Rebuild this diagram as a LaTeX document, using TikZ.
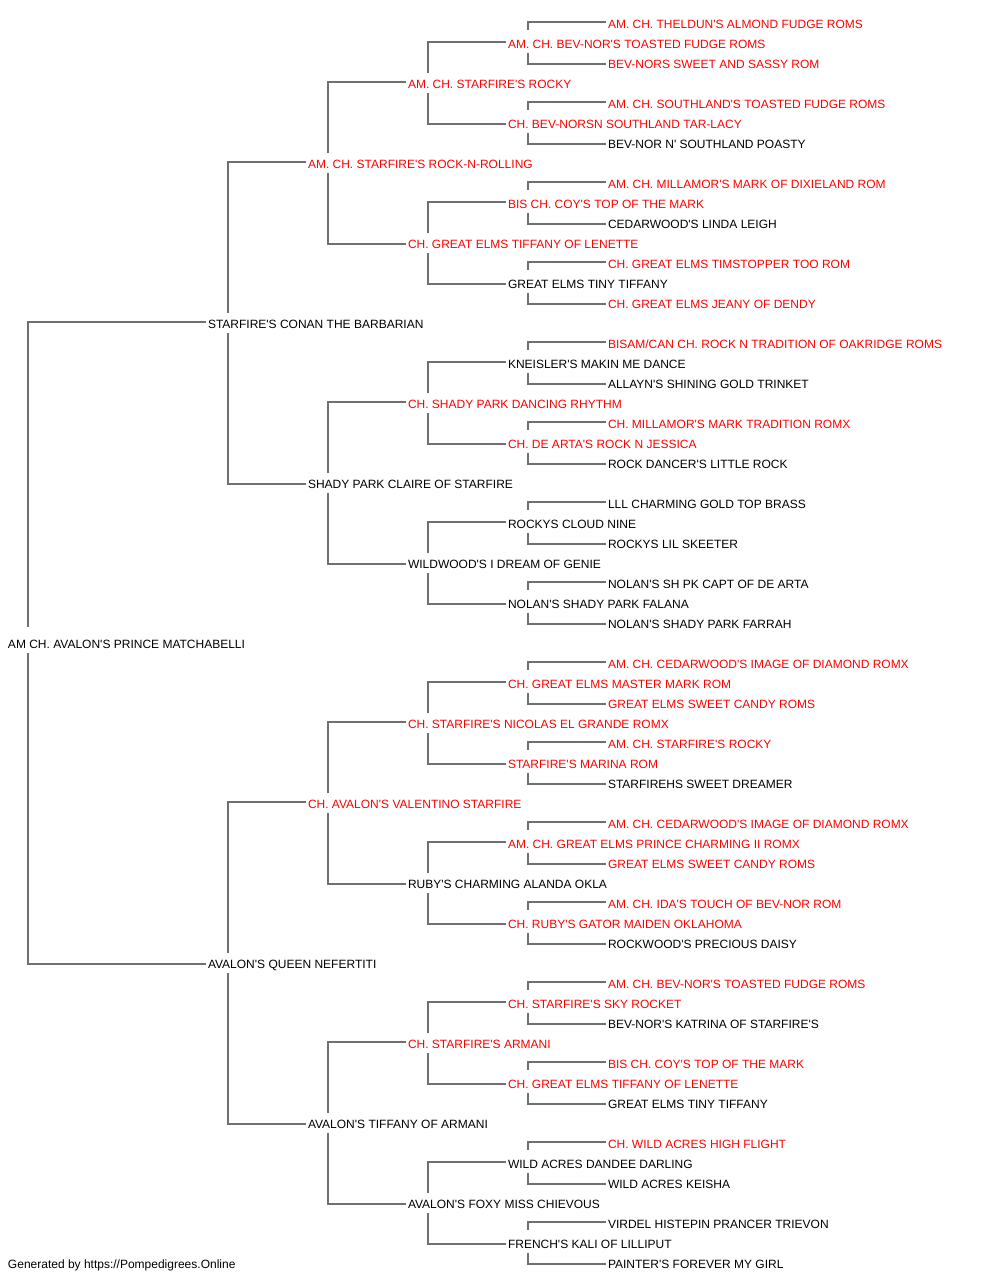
\documentclass[tikz,border=0pt]{standalone}
\usepackage{fontspec}
\setmainfont{Liberation Sans}[Ligatures=TeXOff]
\usetikzlibrary{calc}
\definecolor{linegray}{RGB}{112,112,112}
\definecolor{chred}{RGB}{255,0,0}
\definecolor{plain}{RGB}{0,0,0}
\begin{document}
\begin{tikzpicture}[x=1pt,y=-1pt,
  txt/.style={anchor=base west,inner sep=0pt,outer sep=0pt,font=\fontsize{12}{14}\selectfont},
  conn/.style={draw=linegray,line width=2pt}]
\useasboundingbox[fill=white] (0,0) rectangle (1000,1280);
\newcommand\dog[4]{\node[txt,text=#3] (n#2) at (#1,{28+20*#2}) {#4};}
\newcommand\kids[4]{%
  \draw[conn] ($(n#2.base west)+(-2,-6)$) -| ($(n#1.base west)+(20,#4)$);
  \draw[conn] ($(n#3.base west)+(-2,-4)$) -| ($(n#1.base west)+(20,5)$);}
% nodes
\dog{608}{0}{chred}{AM. CH. THELDUN'S ALMOND FUDGE ROMS}
\dog{508}{1}{chred}{AM. CH. BEV-NOR'S TOASTED FUDGE ROMS}
\dog{608}{2}{chred}{BEV-NORS SWEET AND SASSY ROM}
\dog{408}{3}{chred}{AM. CH. STARFIRE'S ROCKY}
\dog{608}{4}{chred}{AM. CH. SOUTHLAND'S TOASTED FUDGE ROMS}
\dog{508}{5}{chred}{CH. BEV-NORSN SOUTHLAND TAR-LACY}
\dog{608}{6}{plain}{BEV-NOR N' SOUTHLAND POASTY}
\dog{308}{7}{chred}{AM. CH. STARFIRE'S ROCK-N-ROLLING}
\dog{608}{8}{chred}{AM. CH. MILLAMOR'S MARK OF DIXIELAND ROM}
\dog{508}{9}{chred}{BIS CH. COY'S TOP OF THE MARK}
\dog{608}{10}{plain}{CEDARWOOD'S LINDA LEIGH}
\dog{408}{11}{chred}{CH. GREAT ELMS TIFFANY OF LENETTE}
\dog{608}{12}{chred}{CH. GREAT ELMS TIMSTOPPER TOO ROM}
\dog{508}{13}{plain}{GREAT ELMS TINY TIFFANY}
\dog{608}{14}{chred}{CH. GREAT ELMS JEANY OF DENDY}
\dog{208}{15}{plain}{STARFIRE'S CONAN THE BARBARIAN}
\dog{608}{16}{chred}{BISAM/CAN CH. ROCK N TRADITION OF OAKRIDGE ROMS}
\dog{508}{17}{plain}{KNEISLER'S MAKIN ME DANCE}
\dog{608}{18}{plain}{ALLAYN'S SHINING GOLD TRINKET}
\dog{408}{19}{chred}{CH. SHADY PARK DANCING RHYTHM}
\dog{608}{20}{chred}{CH. MILLAMOR'S MARK TRADITION ROMX}
\dog{508}{21}{chred}{CH. DE ARTA'S ROCK N JESSICA}
\dog{608}{22}{plain}{ROCK DANCER'S LITTLE ROCK}
\dog{308}{23}{plain}{SHADY PARK CLAIRE OF STARFIRE}
\dog{608}{24}{plain}{LLL CHARMING GOLD TOP BRASS}
\dog{508}{25}{plain}{ROCKYS CLOUD NINE}
\dog{608}{26}{plain}{ROCKYS LIL SKEETER}
\dog{408}{27}{plain}{WILDWOOD'S I DREAM OF GENIE}
\dog{608}{28}{plain}{NOLAN'S SH PK CAPT OF DE ARTA}
\dog{508}{29}{plain}{NOLAN'S SHADY PARK FALANA}
\dog{608}{30}{plain}{NOLAN'S SHADY PARK FARRAH}
\dog{8}{31}{plain}{AM CH. AVALON'S PRINCE MATCHABELLI}
\dog{608}{32}{chred}{AM. CH. CEDARWOOD'S IMAGE OF DIAMOND ROMX}
\dog{508}{33}{chred}{CH. GREAT ELMS MASTER MARK ROM}
\dog{608}{34}{chred}{GREAT ELMS SWEET CANDY ROMS}
\dog{408}{35}{chred}{CH. STARFIRE'S NICOLAS EL GRANDE ROMX}
\dog{608}{36}{chred}{AM. CH. STARFIRE'S ROCKY}
\dog{508}{37}{chred}{STARFIRE'S MARINA ROM}
\dog{608}{38}{plain}{STARFIREHS SWEET DREAMER}
\dog{308}{39}{chred}{CH. AVALON'S VALENTINO STARFIRE}
\dog{608}{40}{chred}{AM. CH. CEDARWOOD'S IMAGE OF DIAMOND ROMX}
\dog{508}{41}{chred}{AM. CH. GREAT ELMS PRINCE CHARMING II ROMX}
\dog{608}{42}{chred}{GREAT ELMS SWEET CANDY ROMS}
\dog{408}{43}{plain}{RUBY'S CHARMING ALANDA OKLA}
\dog{608}{44}{chred}{AM. CH. IDA'S TOUCH OF BEV-NOR ROM}
\dog{508}{45}{chred}{CH. RUBY'S GATOR MAIDEN OKLAHOMA}
\dog{608}{46}{plain}{ROCKWOOD'S PRECIOUS DAISY}
\dog{208}{47}{plain}{AVALON'S QUEEN NEFERTITI}
\dog{608}{48}{chred}{AM. CH. BEV-NOR'S TOASTED FUDGE ROMS}
\dog{508}{49}{chred}{CH. STARFIRE'S SKY ROCKET}
\dog{608}{50}{plain}{BEV-NOR'S KATRINA OF STARFIRE'S}
\dog{408}{51}{chred}{CH. STARFIRE'S ARMANI}
\dog{608}{52}{chred}{BIS CH. COY'S TOP OF THE MARK}
\dog{508}{53}{chred}{CH. GREAT ELMS TIFFANY OF LENETTE}
\dog{608}{54}{plain}{GREAT ELMS TINY TIFFANY}
\dog{308}{55}{plain}{AVALON'S TIFFANY OF ARMANI}
\dog{608}{56}{chred}{CH. WILD ACRES HIGH FLIGHT}
\dog{508}{57}{plain}{WILD ACRES DANDEE DARLING}
\dog{608}{58}{plain}{WILD ACRES KEISHA}
\dog{408}{59}{plain}{AVALON'S FOXY MISS CHIEVOUS}
\dog{608}{60}{plain}{VIRDEL HISTEPIN PRANCER TRIEVON}
\dog{508}{61}{plain}{FRENCH'S KALI OF LILLIPUT}
\dog{608}{62}{plain}{PAINTER'S FOREVER MY GIRL}
\node[txt,text=plain] (footer) at (8,1268) {Generated by https://Pompedigrees.Online};
% connectors
\kids{31}{15}{47}{-21}
\kids{15}{7}{23}{-15}
\kids{47}{39}{55}{-15}
\foreach \r in {7,23,39,55}{%
  \pgfmathtruncatemacro\ra{\r-4}\pgfmathtruncatemacro\rb{\r+4}%
  \kids{\r}{\ra}{\rb}{-15}}
\foreach \r in {3,11,...,59}{%
  \pgfmathtruncatemacro\ra{\r-2}\pgfmathtruncatemacro\rb{\r+2}%
  \kids{\r}{\ra}{\rb}{-15}}
\foreach \r in {1,5,...,61}{%
  \pgfmathtruncatemacro\ra{\r-1}\pgfmathtruncatemacro\rb{\r+1}%
  \kids{\r}{\ra}{\rb}{-18}}
\end{tikzpicture}
\end{document}
